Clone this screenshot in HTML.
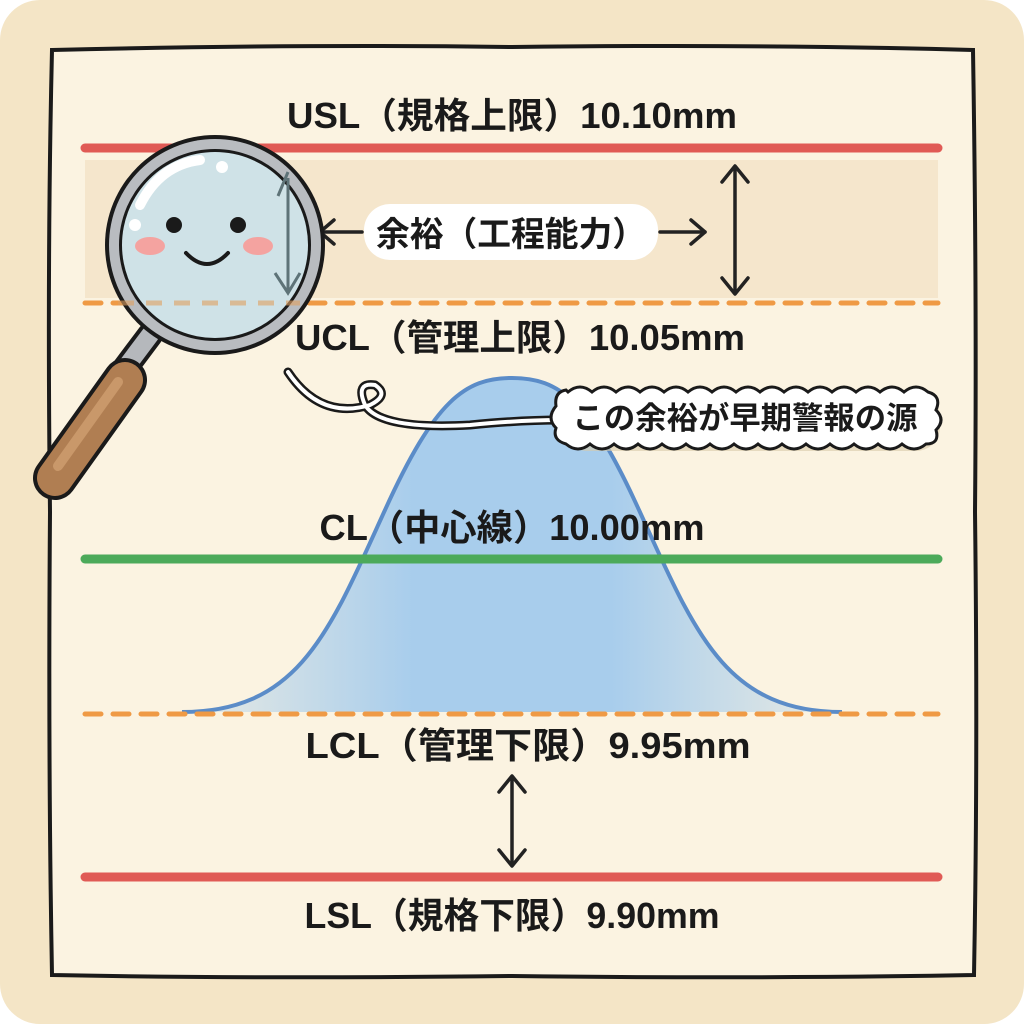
<!DOCTYPE html>
<html><head><meta charset="utf-8"><style>
html,body{margin:0;padding:0;}
body{width:1024px;height:1024px;background:#fff;overflow:hidden;}
text{font-family:"Liberation Sans","Noto Sans CJK JP",sans-serif;}
</style></head><body>
<svg width="1024" height="1024" viewBox="0 0 1024 1024" xmlns="http://www.w3.org/2000/svg">
<defs>
<linearGradient id="bell" x1="0" y1="0" x2="1" y2="0">
<stop offset="0" stop-color="#a8cdec" stop-opacity="0.2"/>
<stop offset="0.35" stop-color="#a8cdec"/>
<stop offset="0.65" stop-color="#a8cdec"/>
<stop offset="1" stop-color="#a8cdec" stop-opacity="0.2"/>
</linearGradient>
</defs>
<rect x="0" y="0" width="1024" height="1024" rx="40" fill="#f4e5c6"/>
<path d="M52 50 Q300 44 512 47 Q760 44 973 50 Q977 300 975 512 Q978 760 974 975 Q760 979 512 976 Q260 979 52 975 Q48 760 50 512 Q47 260 52 50 Z" fill="#fbf3e1" stroke="#1a1a1a" stroke-width="4"/>
<rect x="85" y="160" width="853" height="138" fill="#f3e2c4" opacity="0.75"/>
<!-- bell -->
<path d="M182 712 C300 712 330 630 385 510 C435 400 465 378 512 378 C559 378 589 400 639 510 C694 630 724 712 842 712 Z" fill="url(#bell)"/>
<path d="M182 712 C300 712 330 630 385 510 C435 400 465 378 512 378 C559 378 589 400 639 510 C694 630 724 712 842 712" fill="none" stroke="#5b8cc8" stroke-width="4"/>
<!-- lines -->
<line x1="85" y1="148" x2="938" y2="148" stroke="#e05a55" stroke-width="9" stroke-linecap="round"/>
<line x1="85" y1="303" x2="938" y2="303" stroke="#ef9a45" stroke-width="5" stroke-dasharray="16,12" stroke-linecap="round"/>
<line x1="85" y1="559" x2="938" y2="559" stroke="#4caa5a" stroke-width="9" stroke-linecap="round"/>
<line x1="85" y1="714" x2="938" y2="714" stroke="#ef9a45" stroke-width="5" stroke-dasharray="16,12" stroke-linecap="round"/>
<line x1="85" y1="877" x2="938" y2="877" stroke="#e05a55" stroke-width="9" stroke-linecap="round"/>
<!-- labels -->
<g font-size="36" font-weight="bold" fill="#1a1a1a" text-anchor="middle">
<text x="512" y="128" textLength="450" lengthAdjust="spacingAndGlyphs">USL（規格上限）10.10mm</text>
<text x="520" y="350" textLength="450" lengthAdjust="spacingAndGlyphs">UCL（管理上限）10.05mm</text>
<text x="512" y="540" textLength="385" lengthAdjust="spacingAndGlyphs">CL（中心線）10.00mm</text>
<text x="528" y="758" textLength="445" lengthAdjust="spacingAndGlyphs">LCL（管理下限）9.95mm</text>
<text x="512" y="928" textLength="415" lengthAdjust="spacingAndGlyphs">LSL（規格下限）9.90mm</text>
</g>
<!-- arrows -->
<g stroke="#222" stroke-width="3.5" fill="none" stroke-linecap="round" stroke-linejoin="round">
<line x1="735" y1="168" x2="735" y2="292"/>
<polyline points="722,182 735,166 748,182"/>
<polyline points="722,278 735,294 748,278"/>
<line x1="512" y1="778" x2="512" y2="864"/>
<polyline points="499,792 512,776 525,792"/>
<polyline points="499,850 512,866 525,850"/>
<line x1="320" y1="232" x2="362" y2="232"/>
<polyline points="334,220 320,232 334,244"/>
<line x1="660" y1="232" x2="705" y2="232"/>
<polyline points="691,220 705,232 691,244"/>
</g>
<rect x="364" y="204" width="294" height="56" rx="26" fill="#fff"/>
<text x="511" y="246" font-size="34" font-weight="bold" text-anchor="middle" fill="#1a1a1a" textLength="270" lengthAdjust="spacingAndGlyphs">余裕（工程能力）</text>
<!-- rope -->
<path d="M288 372 Q320 420 370 405 Q390 395 375 385 Q355 382 365 405 Q380 430 470 425 Q520 420 560 420" fill="none" stroke="#1a1a1a" stroke-width="9" stroke-linecap="round"/>
<path d="M288 372 Q320 420 370 405 Q390 395 375 385 Q355 382 365 405 Q380 430 470 425 Q520 420 560 420" fill="none" stroke="#fff" stroke-width="4" stroke-linecap="round"/>
<!-- cloud -->
<rect x="563" y="393" width="377" height="58" rx="24" fill="#d9c9a8" opacity="0.6"/>
<path d="M568 392 q12 -10 24 0 q12 -10 24 0 q12 -10 24 0 q12 -10 24 0 q12 -10 24 0 q12 -10 24 0 q12 -10 24 0 q12 -10 24 0 q12 -10 24 0 q12 -10 24 0 q12 -10 24 0 q12 -10 24 0 q12 -10 24 0 q12 -10 24 0 q12 -10 24 0 q14 4 8 18 q10 10 0 20 q4 14 -10 14 q-12 10 -24 0 q-12 10 -24 0 q-12 10 -24 0 q-12 10 -24 0 q-12 10 -24 0 q-12 10 -24 0 q-12 10 -24 0 q-12 10 -24 0 q-12 10 -24 0 q-12 10 -24 0 q-12 10 -24 0 q-12 10 -24 0 q-12 10 -24 0 q-12 10 -24 0 q-12 10 -24 0 q-14 -4 -10 -16 q-10 -10 0 -22 q-2 -14 10 -16 Z" fill="#fff" stroke="#1a1a1a" stroke-width="3"/>
<text x="745" y="429" font-size="31" font-weight="bold" text-anchor="middle" fill="#1a1a1a" textLength="345" lengthAdjust="spacingAndGlyphs">この余裕が早期警報の源</text>
<!-- magnifier -->
<g>
<line x1="150" y1="335" x2="120" y2="375" stroke="#1a1a1a" stroke-width="26" stroke-linecap="round"/>
<line x1="150" y1="335" x2="120" y2="375" stroke="#b5b8bc" stroke-width="18" stroke-linecap="round"/>
<line x1="125" y1="380" x2="55" y2="478" stroke="#1a1a1a" stroke-width="44" stroke-linecap="round"/>
<line x1="125" y1="380" x2="55" y2="478" stroke="#b07e52" stroke-width="36" stroke-linecap="round"/>
<line x1="118" y1="382" x2="58" y2="466" stroke="#c9986a" stroke-width="10" stroke-linecap="round"/>
<circle cx="215" cy="245" r="110" fill="#1a1a1a"/>
<circle cx="215" cy="245" r="106" fill="#b9bcc0"/>
<circle cx="215" cy="245" r="96" fill="#1a1a1a"/>
<circle cx="215" cy="245" r="93" fill="#d6e9ee" opacity="0.97"/>
<line x1="288" y1="178" x2="288" y2="293" stroke="#5e7378" stroke-width="3"/>
<polyline points="278,196 288,172" stroke="#5e7378" stroke-width="3" fill="none"/>
<polyline points="275,273 288,293 300,273" stroke="#5e7378" stroke-width="3" fill="none"/>
<line x1="118" y1="303" x2="300" y2="303" stroke="#e0a060" stroke-width="5" stroke-dasharray="16,12" opacity="0.6"/>
<path d="M140 205 Q160 165 200 160" stroke="#fff" stroke-width="10" fill="none" stroke-linecap="round"/>
<circle cx="222" cy="167" r="6" fill="#fff"/>
<circle cx="135" cy="225" r="6" fill="#fff"/>
<circle cx="174" cy="225" r="8" fill="#1a1a1a"/>
<circle cx="238" cy="225" r="8" fill="#1a1a1a"/>
<ellipse cx="150" cy="246" rx="15" ry="9" fill="#f4a3a0"/>
<ellipse cx="258" cy="246" rx="15" ry="9" fill="#f4a3a0"/>
<path d="M186 253 Q207 275 228 253" stroke="#1a1a1a" stroke-width="4" fill="none" stroke-linecap="round"/>
</g>
</svg>
</body></html>
